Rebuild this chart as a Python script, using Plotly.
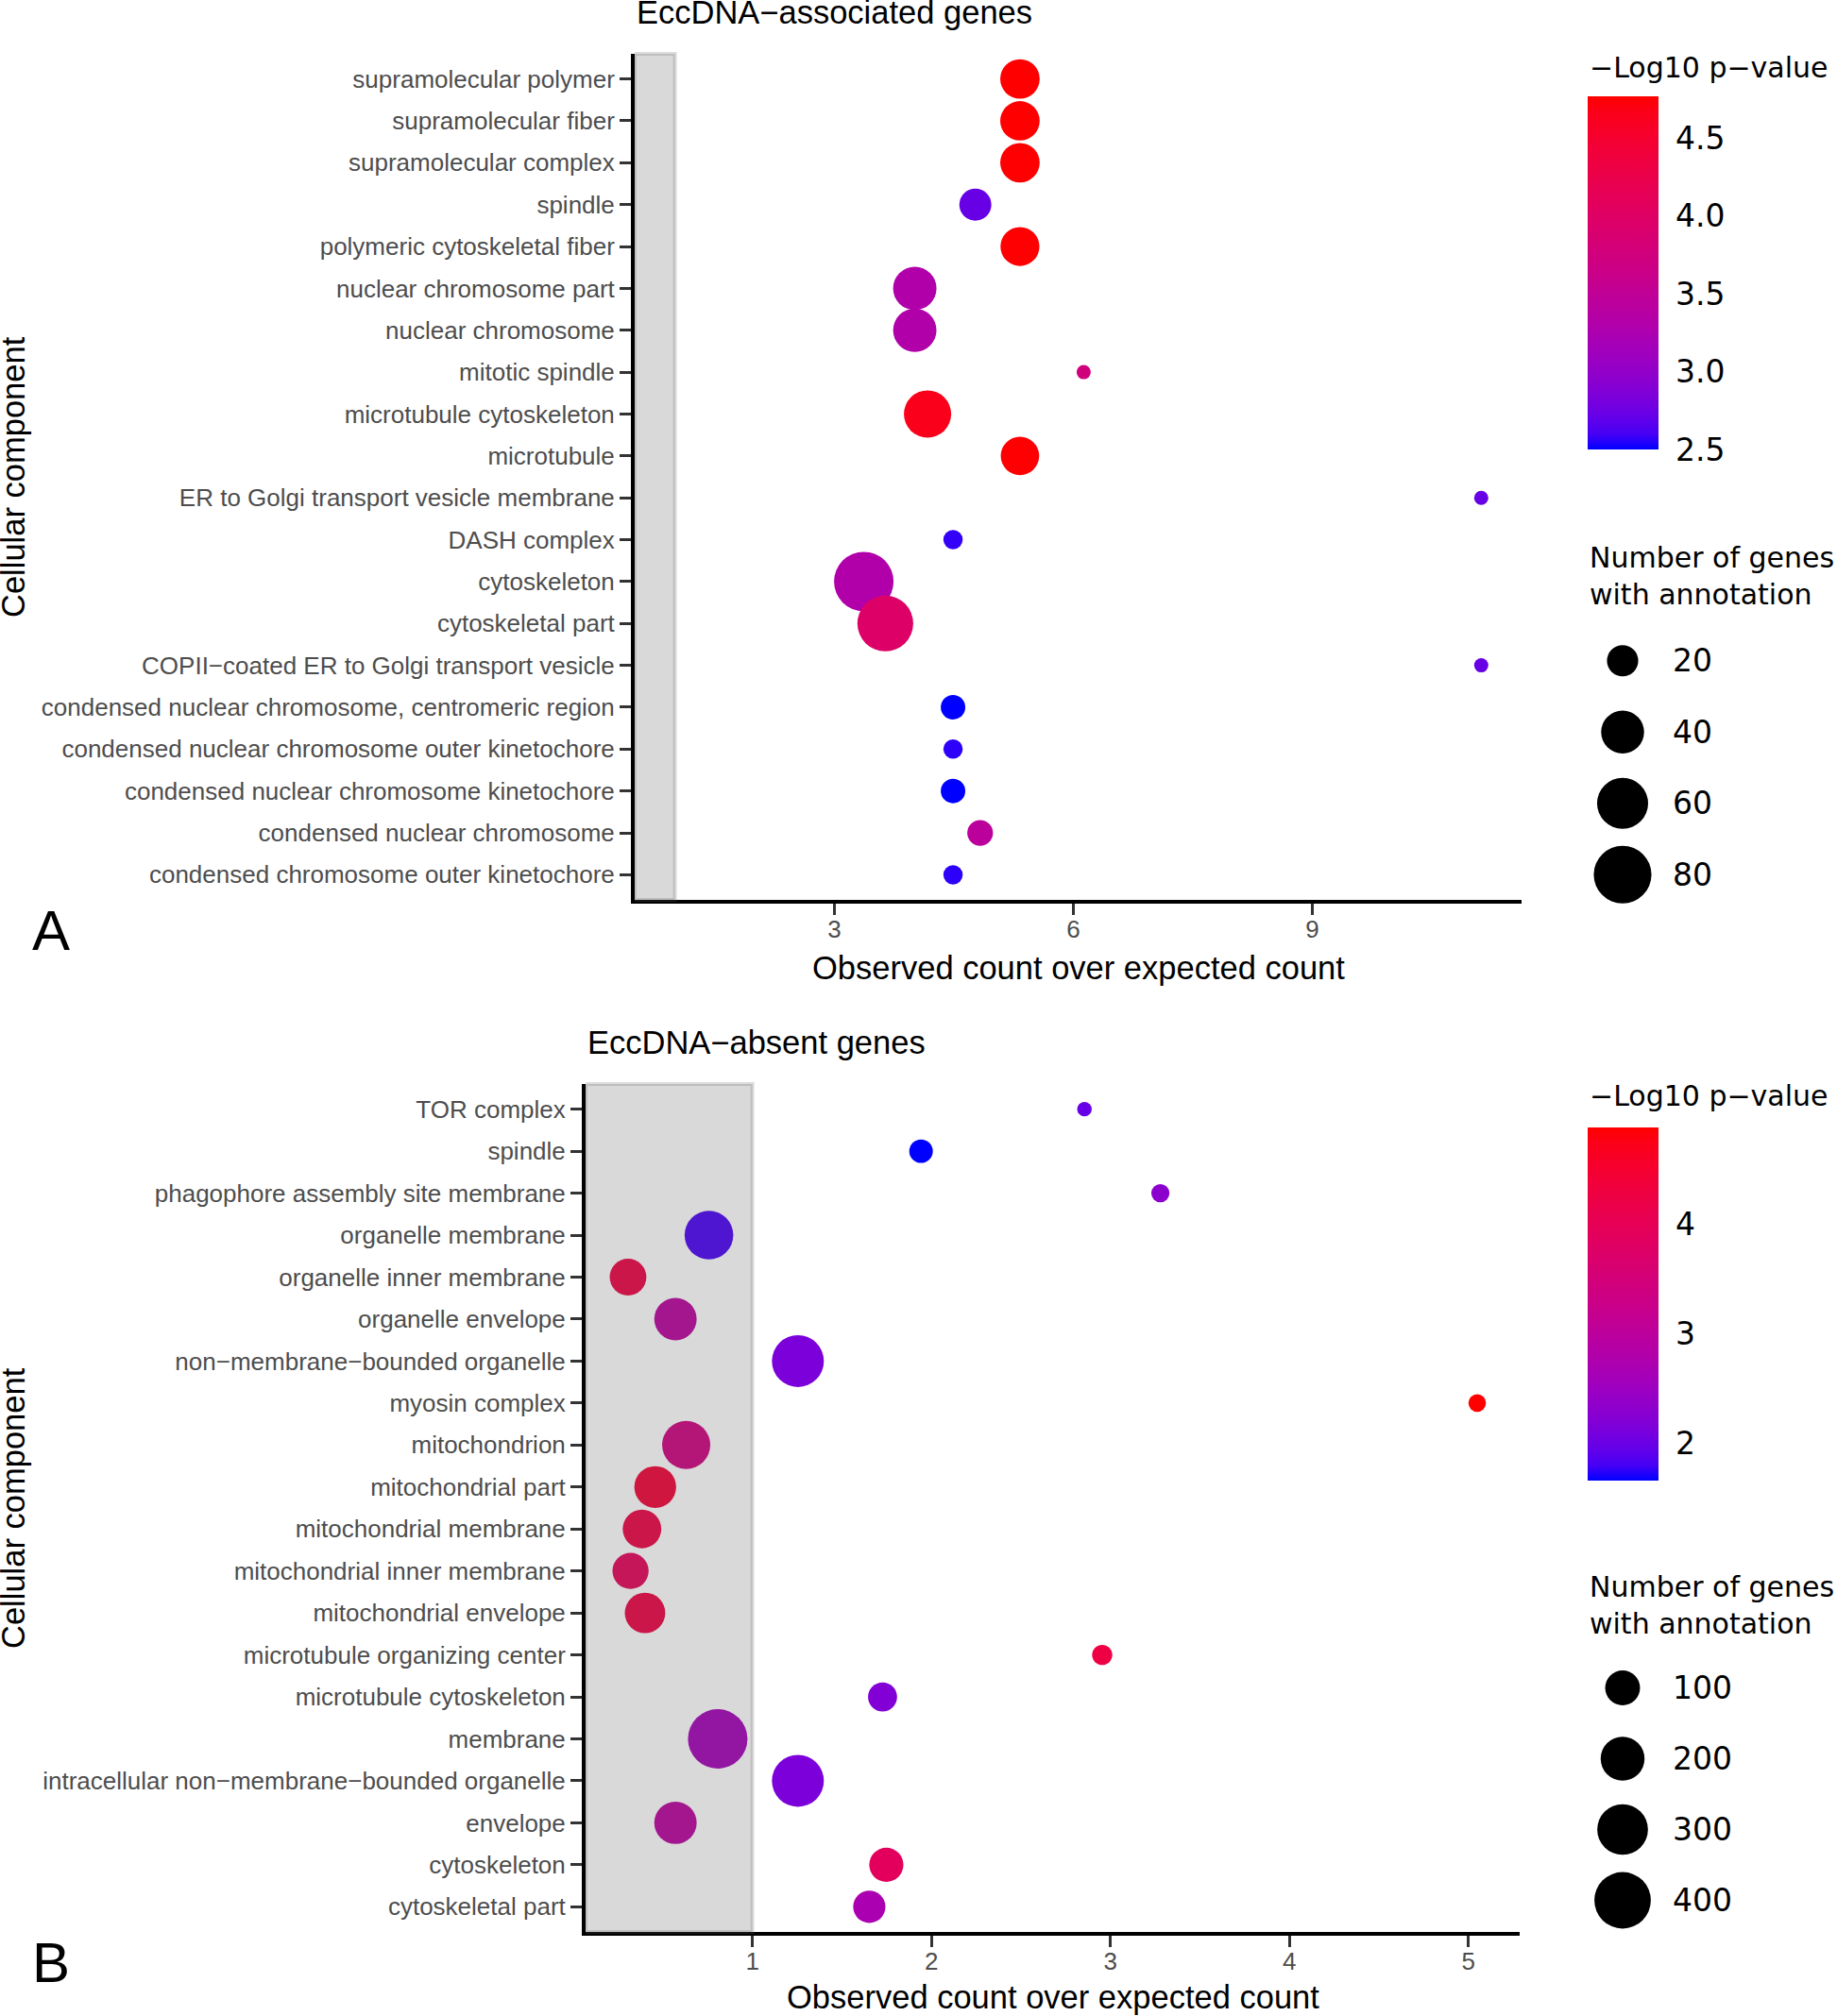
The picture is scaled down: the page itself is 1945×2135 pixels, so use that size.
import math
import plotly.graph_objects as go

W, H = 1945, 2135

# ---------------- data ----------------
top_terms = [
    "supramolecular polymer", "supramolecular fiber", "supramolecular complex", "spindle",
    "polymeric cytoskeletal fiber", "nuclear chromosome part", "nuclear chromosome",
    "mitotic spindle", "microtubule cytoskeleton", "microtubule",
    "ER to Golgi transport vesicle membrane", "DASH complex", "cytoskeleton", "cytoskeletal part",
    "COPII\u2212coated ER to Golgi transport vesicle",
    "condensed nuclear chromosome, centromeric region",
    "condensed nuclear chromosome outer kinetochore",
    "condensed nuclear chromosome kinetochore", "condensed nuclear chromosome",
    "condensed chromosome outer kinetochore",
]
top_ratio = [5.33, 5.33, 5.33, 4.77, 5.33, 4.01, 4.01, 6.13, 4.17, 5.33,
             11.12, 4.49, 3.37, 3.64, 11.12, 4.49, 4.49, 4.49, 4.83, 4.49]
top_logp = [4.77, 4.77, 4.76, 2.73, 4.76, 3.30, 3.30, 3.75, 4.65, 4.76,
            2.73, 2.57, 3.30, 3.98, 2.73, 2.50, 2.56, 2.50, 3.45, 2.56]
top_count = [33, 33, 33, 21, 32, 41, 41, 9, 50, 31,
             9, 10, 86, 74, 9, 13, 10, 13, 14, 10]

bot_terms = [
    "TOR complex", "spindle", "phagophore assembly site membrane", "organelle membrane",
    "organelle inner membrane", "organelle envelope", "non\u2212membrane\u2212bounded organelle",
    "myosin complex", "mitochondrion", "mitochondrial part", "mitochondrial membrane",
    "mitochondrial inner membrane", "mitochondrial envelope", "microtubule organizing center",
    "microtubule cytoskeleton", "membrane", "intracellular non\u2212membrane\u2212bounded organelle",
    "envelope", "cytoskeleton", "cytoskeletal part",
]
bot_ratio = [2.855, 1.942, 3.279, 0.757, 0.305, 0.570, 1.254, 5.049, 0.630, 0.457,
             0.383, 0.319, 0.400, 2.954, 1.727, 0.806, 1.254, 0.570, 1.748, 1.653]
bot_logp = [1.98, 1.66, 2.30, 1.82, 4.24, 2.97, 2.14, 4.88, 3.40, 4.42,
            4.24, 3.95, 4.24, 4.24, 2.20, 2.60, 2.14, 2.97, 3.90, 2.70]
bot_count = [8, 26, 11, 268, 117, 181, 320, 10, 260, 174,
             137, 112, 158, 15, 55, 459, 320, 181, 94, 78]

top_x_ticks = [3, 6, 9]
bot_x_ticks = [1, 2, 3, 4, 5]
top_size_breaks = [20, 40, 60, 80]
bot_size_breaks = [100, 200, 300, 400]
top_color_ticks = [2.5, 3.0, 3.5, 4.0, 4.5]
bot_color_ticks = [2, 3, 4]

# ---------------- helpers ----------------
def _lin(c):
    c = c / 255.0
    return c / 12.92 if c <= 0.04045 else ((c + 0.055) / 1.055) ** 2.4

def _gam(c):
    c = max(0.0, min(1.0, c))
    v = 12.92 * c if c <= 0.0031308 else 1.055 * c ** (1 / 2.4) - 0.055
    return int(round(v * 255))

XN, YN, ZN = 0.95047, 1.0, 1.08883

def rgb2lab(r, g, b):
    R, G, B = _lin(r), _lin(g), _lin(b)
    X = 0.4124 * R + 0.3576 * G + 0.1805 * B
    Y = 0.2126 * R + 0.7152 * G + 0.0722 * B
    Z = 0.0193 * R + 0.1192 * G + 0.9505 * B
    f = lambda t: t ** (1 / 3) if t > 0.008856 else 7.787 * t + 16 / 116
    fx, fy, fz = f(X / XN), f(Y / YN), f(Z / ZN)
    return 116 * fy - 16, 500 * (fx - fy), 200 * (fy - fz)

def lab2rgb(L, a, b):
    fy = (L + 16) / 116
    fx = fy + a / 500
    fz = fy - b / 200
    fi = lambda t: t ** 3 if t ** 3 > 0.008856 else (t - 16 / 116) / 7.787
    X, Y, Z = XN * fi(fx), YN * fi(fy), ZN * fi(fz)
    R = 3.2406 * X - 1.5372 * Y - 0.4986 * Z
    G = -0.9689 * X + 1.8758 * Y + 0.0415 * Z
    B = 0.0557 * X - 0.2040 * Y + 1.0570 * Z
    return _gam(R), _gam(G), _gam(B)

lo, hi = rgb2lab(0, 0, 255), rgb2lab(255, 0, 0)
NSTOP = 24
colorscale = []
for i in range(NSTOP + 1):
    t = i / NSTOP
    lab = [lo[k] + (hi[k] - lo[k]) * t for k in range(3)]
    r, g, b = lab2rgb(*lab)
    colorscale.append([t, f"rgb({r},{g},{b})"])

def diam(v, vmin, vmax, dmin, dmax):
    t = max(0.0, (v - vmin) / (vmax - vmin))
    return dmin + (dmax - dmin) * math.sqrt(t)

def xrange_of(vals):
    lo_, hi_ = min(min(vals), 1.0), max(max(vals), 1.0)
    pad = 0.05 * (hi_ - lo_)
    return [lo_ - pad, hi_ + pad]

px_x = lambda p: p / W
px_y = lambda p: 1 - p / H

FONT = "Liberation Sans, Arial, Helvetica, sans-serif"
LFONT = "DejaVu Sans, Verdana, sans-serif"
AXTXT = "#4D4D4D"

CB_L, CB_W = 1681, 75

panels = [
    dict(terms=top_terms, ratio=top_ratio, logp=top_logp, count=top_count, xticks=top_x_ticks,
         dmin=15, dmax=63, breaks=top_size_breaks, cticks=top_color_ticks, ctfmt=".1f",
         xdom=(672, 1611), ydom=(57, 953), ax="", cax="coloraxis",
         cbar_top=102, cbar_len=374, leg_dom=(662, 964),
         title="EccDNA\u2212associated genes", title_y=13, xtitle_y=1025, letter="A", letter_y=986,
         ctitle_y=71, stitle_y=610),
    dict(terms=bot_terms, ratio=bot_ratio, logp=bot_logp, count=bot_count, xticks=bot_x_ticks,
         dmin=15.4, dmax=63, breaks=bot_size_breaks, cticks=bot_color_ticks, ctfmt="d",
         xdom=(620, 1609), ydom=(1148, 2046), ax="2", cax="coloraxis2",
         cbar_top=1194, cbar_len=374, leg_dom=(1750, 2050),
         title="EccDNA\u2212absent genes", title_y=1104, xtitle_y=2115, letter="B", letter_y=2078,
         ctitle_y=1160, stitle_y=1700),
]

fig = go.Figure()
layout = dict(width=W, height=H, margin=dict(l=0, r=0, t=0, b=0, autoexpand=False),
              paper_bgcolor="white", plot_bgcolor="white", showlegend=False,
              font=dict(family=FONT, color="black"))
shapes, annotations = [], []

for i, P in enumerate(panels):
    ax = P["ax"]
    xname, yname = "x" + ax, "y" + ax
    vmin, vmax = min(P["count"]), max(P["count"])
    sizes = [diam(v, vmin, vmax, P["dmin"], P["dmax"]) for v in P["count"]]
    fig.add_trace(go.Scatter(
        x=P["ratio"], y=P["terms"], mode="markers", xaxis=xname, yaxis=yname,
        marker=dict(size=sizes, sizemode="diameter", color=P["logp"], coloraxis=P["cax"],
                    line=dict(width=0), opacity=1),
        hoverinfo="x+y", cliponaxis=False))
    xr = xrange_of(P["ratio"])
    n = len(P["terms"])
    layout["xaxis" + ax] = dict(
        domain=[px_x(P["xdom"][0]), px_x(P["xdom"][1])], anchor=yname, range=xr,
        tickmode="array", tickvals=P["xticks"], ticktext=[str(v) for v in P["xticks"]],
        showgrid=False, zeroline=False,
        showline=True, linecolor="black", linewidth=4,
        ticks="outside", ticklen=12, tickwidth=3, tickcolor="#333333", ticklabelstandoff=-7,
        tickfont=dict(family=FONT, size=26, color=AXTXT))
    layout["yaxis" + ax] = dict(
        domain=[px_y(P["ydom"][1]), px_y(P["ydom"][0])], anchor=xname,
        type="category", categoryorder="array", categoryarray=list(reversed(P["terms"])),
        range=[-0.6, n - 0.4], showgrid=False, zeroline=False,
        showline=True, linecolor="black", linewidth=4,
        ticks="outside", ticklen=12, tickwidth=3, tickcolor="#333333",
        tickfont=dict(family=FONT, size=26, color=AXTXT))
    # grey "below expectation" region, drawn over the points
    shapes.append(dict(type="rect", xref=xname, yref=yname + " domain",
                       x0=xr[0], x1=1, y0=0, y1=1, layer="above",
                       fillcolor="rgba(94,94,94,0.235)",
                       line=dict(color="rgba(94,94,94,0.22)", width=4)))
    # colour axis
    cmin, cmax = min(P["logp"]), max(P["logp"])
    layout[P["cax"]] = dict(
        colorscale=colorscale, cmin=cmin, cmax=cmax,
        colorbar=dict(
            x=px_x(CB_L), xanchor="left", xpad=0, xref="paper",
            y=px_y(P["cbar_top"]), yanchor="top", ypad=0, yref="paper",
            thickness=CB_W, thicknessmode="pixels", len=P["cbar_len"], lenmode="pixels",
            outlinewidth=0, ticks="outside", ticklen=12, tickwidth=1,
            tickcolor="rgba(0,0,0,0)",
            tickvals=P["cticks"], tickformat=P["ctfmt"],
            tickfont=dict(family=LFONT, size=33, color="black"), title=dict(text="")))
    # white ticks on both sides of colourbar
    bar_bot = P["cbar_top"] + P["cbar_len"]
    for tv in P["cticks"]:
        yp = bar_bot - (tv - cmin) / (cmax - cmin) * P["cbar_len"]
        for xa, xb in ((CB_L, CB_L + 16), (CB_L + CB_W - 16, CB_L + CB_W)):
            shapes.append(dict(type="line", xref="paper", yref="paper",
                               x0=px_x(xa), x1=px_x(xb), y0=px_y(yp), y1=px_y(yp),
                               line=dict(color="white", width=2), layer="above"))
    # size legend on hidden axes
    lx, ly = "x" + str(3 + i), "y" + str(3 + i)
    layout["xaxis" + str(3 + i)] = dict(domain=[px_x(1680), px_x(1940)], range=[0, 260],
                                        visible=False, anchor=ly)
    layout["yaxis" + str(3 + i)] = dict(domain=[px_y(P["leg_dom"][1]), px_y(P["leg_dom"][0])],
                                        range=[len(P["breaks"]) - 0.5, -0.5], visible=False,
                                        anchor=lx)
    bsizes = [diam(v, vmin, vmax, P["dmin"], P["dmax"]) for v in P["breaks"]]
    fig.add_trace(go.Scatter(
        x=[38] * len(P["breaks"]), y=list(range(len(P["breaks"]))), mode="markers",
        xaxis=lx, yaxis=ly,
        marker=dict(size=bsizes, color="black", opacity=1, line=dict(width=0)),
        hoverinfo="skip", cliponaxis=False))
    for k, b in enumerate(P["breaks"]):
        annotations.append(dict(xref=lx, yref=ly, x=89, y=k, text=str(b), showarrow=False,
                                xanchor="left", yanchor="middle",
                                font=dict(family=LFONT, size=33, color="black")))
    # texts
    annotations += [
        dict(xref="paper", yref="paper", x=px_x(P["xdom"][0]), y=px_y(P["title_y"]),
             text=P["title"], showarrow=False, xanchor="left", yanchor="middle",
             font=dict(family=FONT, size=34.5, color="black")),
        dict(xref="paper", yref="paper", x=px_x((P["xdom"][0] + P["xdom"][1]) / 2),
             y=px_y(P["xtitle_y"]), text="Observed count over expected count", showarrow=False,
             xanchor="center", yanchor="middle", font=dict(family=FONT, size=34.5, color="black")),
        dict(xref="paper", yref="paper", x=px_x(14), y=px_y((P["ydom"][0] + P["ydom"][1]) / 2),
             text="Cellular component", showarrow=False, textangle=-90,
             xanchor="center", yanchor="middle", font=dict(family=FONT, size=34.5, color="black")),
        dict(xref="paper", yref="paper", x=px_x(54), y=px_y(P["letter_y"]), text=P["letter"],
             showarrow=False, xanchor="center", yanchor="middle",
             font=dict(family=FONT, size=60, color="black")),
        dict(xref="paper", yref="paper", x=px_x(CB_L), y=px_y(P["ctitle_y"]),
             text="\u2212Log10 p\u2212value", showarrow=False, xanchor="left", yanchor="middle",
             font=dict(family=LFONT, size=30, color="black")),
        dict(xref="paper", yref="paper", x=px_x(CB_L), y=px_y(P["stitle_y"]),
             text="Number of genes<br>with annotation", showarrow=False, xanchor="left",
             yanchor="middle", align="left", font=dict(family=LFONT, size=30, color="black")),
    ]

layout["shapes"] = shapes
layout["annotations"] = annotations
fig.update_layout(**layout)
fig.write_html("out.html", config={"displayModeBar": False},
               post_script="document.body.style.margin='0px';document.body.style.padding='0px';")
